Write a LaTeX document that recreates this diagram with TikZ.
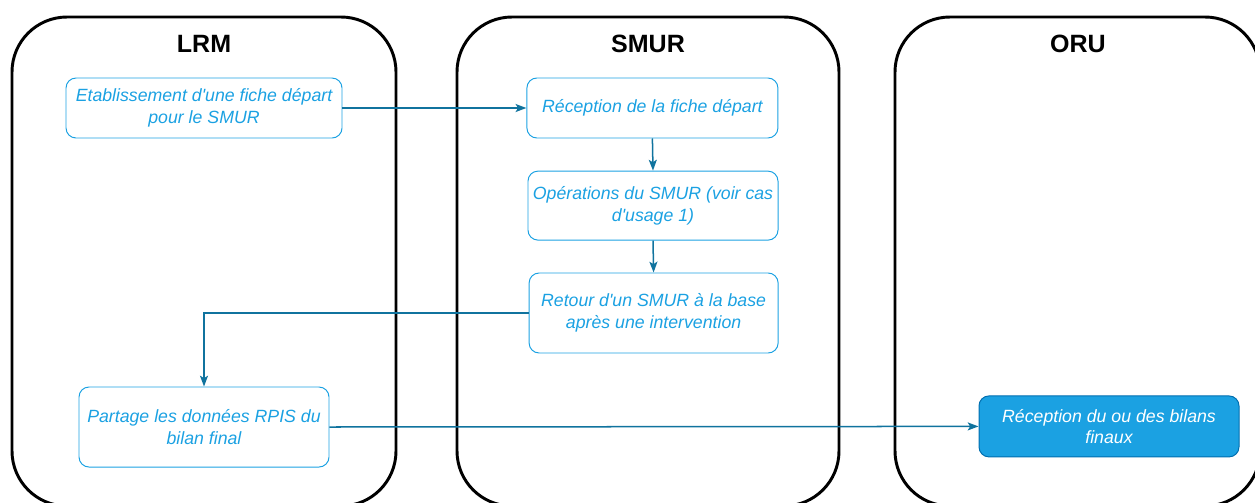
\documentclass[tikz,border=0pt]{standalone}
\usepackage{fontspec}
\setmainfont{Liberation Sans}
\usetikzlibrary{arrows.meta}
\definecolor{bordo}{HTML}{1BA1E2}
\definecolor{freccia}{HTML}{10739E}
\definecolor{bordopieno}{HTML}{006EAF}
\tikzset{
    couloir/.style={line width=2.1pt, rounded corners=1.375cm},
    titre/.style={font=\fontsize{17.8}{21}\selectfont\bfseries},
    etape/.style={draw=bordo, line width=0.7pt, rounded corners=0.25cm, text=bordo, align=center,
        font=\fontsize{12.6}{15.4}\selectfont\itshape, inner sep=0pt},
    etapepleine/.style={etape, fill=bordo, draw=bordopieno, text=white},
    lien/.style={draw=freccia, line width=1.07pt, -{Stealth[length=0.27cm, width=0.2cm, inset=0.06cm]}}
}

\begin{document}
\begin{tikzpicture}
    \useasboundingbox (0,0) rectangle (31.375,-12.55);
    \clip (0,0) rectangle (31.375,-12.55);
    %couloirs
    \draw[couloir] (0.3,-0.425) rectangle (9.9,-12.65);
    \draw[couloir] (11.425,-0.425) rectangle (20.975,-12.65);
    \draw[couloir] (22.375,-0.425) rectangle (31.5,-12.65);
    \node[titre] (lrm) at (5.1,-1.1) {LRM};
    \node[titre] (smur) at (16.2,-1.1) {SMUR};
    \node[titre] (oru) at (26.95,-1.1) {ORU};
    %etapes LRM
    \node[etape, minimum width=6.9cm, minimum height=1.5cm] (fiche) at (5.1,-2.7)
        {Etablissement d\textquotesingle une fiche départ\\pour le SMUR};
    \node[etape, minimum width=6.25cm, minimum height=2cm] (partage) at (5.1,-10.675)
        {Partage les données RPIS du\\bilan final};
    %etapes SMUR
    \node[etape, minimum width=6.275cm, minimum height=1.5cm] (reception) at (16.31,-2.7)
        {Réception de la fiche départ};
    \node[etape, minimum width=6.25cm, minimum height=1.725cm] (operations) at (16.325,-5.14)
        {Opérations du SMUR (voir cas\\d\textquotesingle usage 1)};
    \node[etape, minimum width=6.225cm, minimum height=2cm] (retour) at (16.34,-7.825)
        {Retour d\textquotesingle un SMUR à la base\\après une intervention};
    %etape ORU
    \node[etapepleine, minimum width=6.5cm, minimum height=1.525cm] (bilans) at (27.725,-10.66)
        {Réception du ou des bilans\\finaux};
    %liens
    \draw[lien] (fiche.east) -- (reception.west);
    \draw[lien] (reception.south) -- (operations.north);
    \draw[lien] (operations.south) -- (retour.north);
    \draw[lien] (retour.west) -| (partage.north);
    \draw[lien] (partage.east) -- (bilans.west);
\end{tikzpicture}
\end{document}
